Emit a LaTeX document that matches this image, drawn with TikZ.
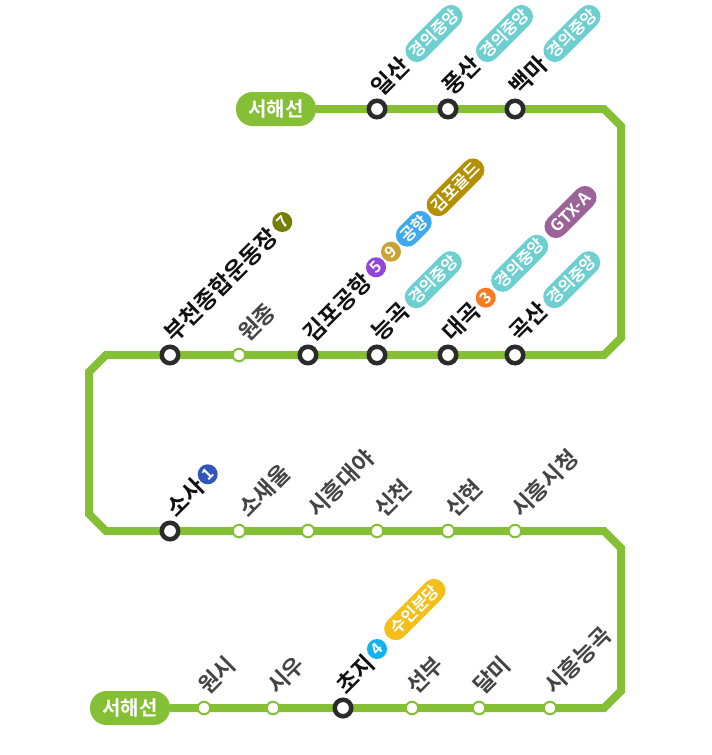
\documentclass[tikz,border=0pt]{standalone}
\usepackage{fontspec}
\setmainfont{Noto Sans CJK KR}[BoldFont=* Bold]
\definecolor{linegreen}{HTML}{85BF35}
\definecolor{ringdark}{HTML}{2B2B2B}
\definecolor{nameblack}{HTML}{111111}
\definecolor{namegrey}{HTML}{444444}
\definecolor{teal}{HTML}{6DCFCF}
\definecolor{kimpo}{HTML}{B39000}
\definecolor{airport}{HTML}{3EA9EE}
\definecolor{gtxa}{HTML}{9B6398}
\definecolor{suin}{HTML}{F5BF1B}
\definecolor{lnseven}{HTML}{747F00}
\definecolor{lnfive}{HTML}{9344DD}
\definecolor{lnnine}{HTML}{C9A233}
\definecolor{lnthree}{HTML}{FA7A22}
\definecolor{lnone}{HTML}{2F56B8}
\definecolor{lnfour}{HTML}{10B3EE}
\tikzset{
  track/.style={draw=linegreen,line width=8pt,line join=miter},
  bigst/.style={circle,draw=ringdark,fill=white,line width=4.5pt,minimum size=16.5pt,inner sep=0pt},
  smallst/.style={circle,draw=linegreen,fill=white,line width=2pt,minimum size=12.5pt,inner sep=0pt},
  terminus/.style={fill=linegreen,text=white,font=\bfseries\fontsize{20}{20}\selectfont,
    rounded corners=16.5pt,minimum width=80pt,minimum height=34pt,inner sep=0pt},
  xname/.style={rotate=45,anchor=west,inner sep=0pt},
  majorname/.style={xname,text=nameblack,font=\bfseries\fontsize{23}{23}\selectfont},
  minorname/.style={xname,text=namegrey,font=\bfseries\fontsize{22.5}{22.5}\selectfont},
  pill/.style={rotate=45,text=white,font=\bfseries\fontsize{16.5}{16.5}\selectfont,inner sep=0pt,
    rounded corners=11.4pt,minimum height=23pt},
  badge/.style={circle,text=white,rotate=45,minimum size=20pt,inner sep=0pt,font=\bfseries\fontsize{16}{16}\selectfont},
}
\begin{document}
\begin{tikzpicture}[x=1pt,y=-1pt]
\useasboundingbox (0,0) rectangle (712,755);
% track
\coordinate (c1) at (604,109); \coordinate (c2) at (621,126);
\coordinate (c3) at (621,338); \coordinate (c4) at (604,355);
\coordinate (c5) at (106,355); \coordinate (c6) at (89,372);
\coordinate (c7) at (89,514);  \coordinate (c8) at (106,531);
\coordinate (c9) at (604,531); \coordinate (c10) at (621,548);
\coordinate (c11) at (621,691); \coordinate (c12) at (604,708);
\node[terminus] (startpill) at (276,109) {서해선};
\node[terminus] (endpill) at (130,708) {서해선};
\draw[track] (startpill.east) -- (c1) -- (c2) -- (c3) -- (c4) -- (c5) -- (c6) -- (c7) -- (c8) -- (c9) -- (c10) -- (c11) -- (c12) -- (endpill.east);
% stations row 1
\node[bigst] (ilsan) at (377,109) {};
\node[bigst] (pungsan) at (448,109) {};
\node[bigst] (baekma) at (515,109) {};
% row 2
\node[bigst] (bucheon) at (170,355) {};
\node[smallst] (wonjong) at (239,355) {};
\node[bigst] (gimpo) at (308,355) {};
\node[bigst] (neunggok) at (377,355) {};
\node[bigst] (daegok) at (448,355) {};
\node[bigst] (goksan) at (515,355) {};
% row 3
\node[bigst] (sosa) at (170,531) {};
\node[smallst] (sosaeul) at (239,531) {};
\node[smallst] (daeya) at (308,531) {};
\node[smallst] (sincheon) at (377,531) {};
\node[smallst] (sinhyeon) at (448,531) {};
\node[smallst] (cityhall) at (515,531) {};
% row 4
\node[smallst] (wonsi) at (204,708) {};
\node[smallst] (siu) at (273,708) {};
\node[bigst] (choji) at (343,708) {};
\node[smallst] (seonbu) at (412,708) {};
\node[smallst] (dalmi) at (479,708) {};
\node[smallst] (neunggok2) at (550,708) {};
% names
\node[majorname] (n1) at (375,91) {일산};
\node[majorname] (n2) at (446,91) {풍산};
\node[majorname] (n3) at (513,91) {백마};
\node[majorname] (n4) at (168,337) {부천종합운동장};
\node[minorname] (n5) at (242,337) {원종};
\node[majorname] (n6) at (307,337) {김포공항};
\node[majorname] (n7) at (375,337) {능곡};
\node[majorname] (n8) at (446,337) {대곡};
\node[majorname] (n9) at (513,337) {곡산};
\node[majorname] (n10) at (170,513) {소사};
\node[minorname] (n11) at (242,513) {소새울};
\node[minorname] (n12) at (311,513) {시흥대야};
\node[minorname] (n13) at (378,513) {신천};
\node[minorname] (n14) at (449,513) {신현};
\node[minorname] (n15) at (515,513) {시흥시청};
\node[minorname] (n16) at (202,690) {원시};
\node[minorname] (n17) at (271,690) {시우};
\node[majorname] (n18) at (340,690) {초지};
\node[minorname] (n19) at (410,690) {선부};
\node[minorname] (n20) at (477,690) {달미};
\node[minorname] (n21) at (548,690) {시흥능곡};
% pills
\node[pill,fill=teal,minimum width=71pt] (p1) at (434,33.5) {경의중앙};
\node[pill,fill=teal,minimum width=71pt] (p2) at (504.5,33.5) {경의중앙};
\node[pill,fill=teal,minimum width=71pt] (p3) at (572,33.5) {경의중앙};
\node[pill,fill=teal,minimum width=71pt] (p4) at (433.3,279.7) {경의중앙};
\node[pill,fill=teal,minimum width=71pt] (p5) at (519.7,263.3) {경의중앙};
\node[pill,fill=teal,minimum width=71pt] (p6) at (571.7,279.7) {경의중앙};
\node[pill,fill=gtxa,minimum width=64pt] (p7) at (570.5,212) {GTX-A};
\node[pill,fill=airport,minimum width=41pt] (p8) at (413.8,228.8) {공항};
\node[pill,fill=kimpo,minimum width=72pt] (p9) at (455.5,187.3) {김포골드};
\node[pill,fill=suin,minimum width=77pt] (p10) at (414.8,609.5) {수인분당};
% badges
\node[badge,fill=lnseven] (b7) at (282.3,222) {7};
\node[badge,fill=lnfive] (b5) at (376,267.3) {5};
\node[badge,fill=lnnine] (b9) at (391,251.7) {9};
\node[badge,fill=lnthree] (b3) at (485.7,297.7) {3};
\node[badge,fill=lnone] (b1) at (207.7,474.3) {1};
\node[badge,fill=lnfour] (b4) at (377,649) {4};
\end{tikzpicture}
\end{document}
